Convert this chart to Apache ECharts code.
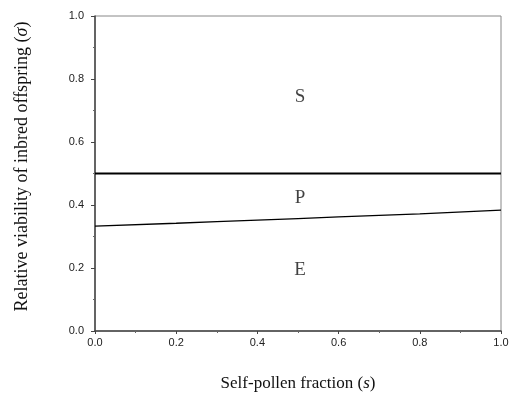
<!DOCTYPE html>
<html><head><meta charset="utf-8">
<script src="https://cdn.jsdelivr.net/npm/echarts@6/dist/echarts.min.js"></script>
<style>html,body{margin:0;padding:0;background:#fff}#c{width:509px;height:394px}</style>
</head><body><div id="c"></div>
<script>
const sValues = [0, 0.2, 0.4, 0.6, 0.8, 1.0];
const upperBoundary = [0.5, 0.5, 0.5, 0.5, 0.5, 0.5];
const lowerBoundary = [0.333, 0.342, 0.352, 0.362, 0.372, 0.384];
const regionLabels = ['S', 'P', 'E'];
const regionX = [0.505, 0.505, 0.505];
const regionY = [0.743, 0.422, 0.194];

const chart = echarts.init(document.getElementById('c'));
const serif = '"Liberation Serif","Times New Roman",serif';
const sans = '"Liberation Sans",Arial,sans-serif';
chart.setOption({
  animation: false,
  grid: {left: 95, right: 8, top: 16, bottom: 63, outerBoundsMode: 'none', containLabel: false,
         show: true, borderColor: '#888', borderWidth: 1},
  xAxis: {
    type: 'value', min: 0, max: 1, interval: 0.2,
    axisLine: {show: true, lineStyle: {color: '#444', width: 1.5}},
    axisTick: {show: true, length: 3, inside: false, lineStyle: {color: '#444'}},
    minorTick: {show: true, splitNumber: 2, length: 2, lineStyle: {color: '#666'}},
    splitLine: {show: false},
    axisLabel: {color: '#222', fontFamily: sans, fontSize: 11, margin: 6, formatter: v => v.toFixed(1)},
    name: '{n|Self-pollen fraction (}{i|s}{n|)}',
    nameLocation: 'middle', nameGap: 44,
    nameTextStyle: {rich: {n: {fontFamily: serif, fontSize: 17, color: '#111'}, i: {fontFamily: serif, fontSize: 17, fontStyle: 'italic', color: '#111'}}}
  },
  yAxis: {
    type: 'value', min: 0, max: 1, interval: 0.2,
    axisLine: {show: true, lineStyle: {color: '#444', width: 1.5}},
    axisTick: {show: true, length: 4, inside: false, lineStyle: {color: '#444'}},
    minorTick: {show: true, splitNumber: 2, length: 2, lineStyle: {color: '#666'}},
    splitLine: {show: false},
    axisLabel: {color: '#222', fontFamily: sans, fontSize: 11, margin: 11, formatter: v => v.toFixed(1)},
    name: '{n|Relative viability of inbred offspring (}{i|σ}{n|)}',
    nameLocation: 'middle', nameGap: 64,
    nameTextStyle: {padding: [0, 0, 0, 14], rich: {n: {fontFamily: serif, fontSize: 18, color: '#111'}, i: {fontFamily: serif, fontSize: 18, fontStyle: 'italic', color: '#111'}}}
  },
  series: [
    {type: 'line', data: sValues.map((s, i) => [s, upperBoundary[i]]), showSymbol: false, lineStyle: {color: '#000', width: 2}, smooth: false},
    {type: 'line', data: sValues.map((s, i) => [s, lowerBoundary[i]]), showSymbol: false, lineStyle: {color: '#000', width: 1.3}, smooth: true},
    {type: 'scatter', data: regionLabels.map((t, i) => [regionX[i], regionY[i], t]), symbolSize: 0,
     label: {show: true, position: 'inside', formatter: p => p.data[2], fontFamily: serif, fontSize: 19, color: '#111'}}
  ]
});
</script></body></html>
